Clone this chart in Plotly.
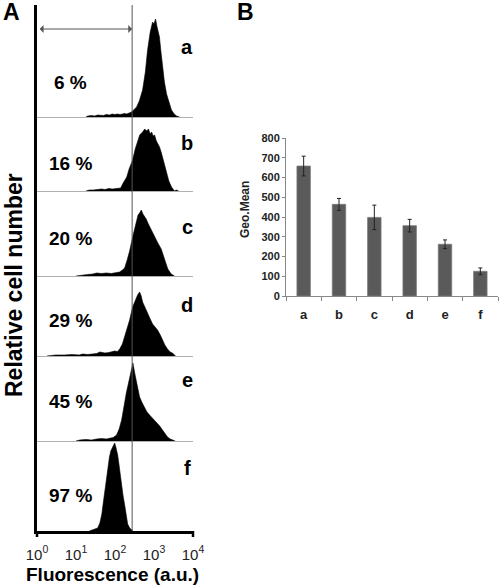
import numpy as np
import plotly.graph_objects as go

# ---------------- data ----------------
panels = ['a', 'b', 'c', 'd', 'e', 'f']
percent_labels = ['6 %', '16 %', '20 %', '29 %', '45 %', '97 %']
gate_value = 275  # gate boundary (a.u.)

fluo_a = [18, 20, 25, 30, 36, 41, 50, 60, 72, 85, 98, 115, 135, 155, 177, 200, 230, 267, 300, 358,
          420, 510, 600, 685, 800, 920, 1000, 1096, 1200, 1380, 1500, 1650, 1850, 2100, 2450, 2800, 3300, 3790, 4500]
count_a = [0, 1, 1.5, 1, 2, 2, 1.5, 2.5, 2, 3, 2.5, 3, 2.5, 3, 3.5, 3, 4, 5, 7, 10,
           16, 27, 45, 67, 85, 95, 93, 98, 90, 80, 66, 50, 35, 23, 13, 7, 3, 1, 0]

fluo_b = [18, 22, 28, 35, 45, 55, 70, 85, 100, 120, 140, 157, 177, 200, 230, 283, 330, 380, 430, 510,
          580, 645, 720, 800, 870, 950, 1033, 1150, 1386, 1550, 1700, 1859, 2100, 2400, 2808, 3100, 3350, 3700, 4000, 4300]
count_b = [0, 1, 1, 1.5, 2, 1.5, 2.5, 2, 2.5, 3, 3, 7, 10, 14, 22, 31, 42, 51, 56, 59,
           62, 60, 62, 57, 59, 55, 56, 50, 44, 38, 32, 27, 18, 10, 4, 1, 0, 1, 0, 0]

fluo_c = [10, 14, 20, 27, 34, 45, 60, 80, 100, 115, 132, 155, 177, 205, 237, 288, 320, 352, 390, 427,
          472, 520, 574, 630, 697, 800, 935, 1100, 1254, 1531, 1859, 2259, 2760, 3350]
count_c = [0, 1, 1.5, 2, 3, 2.5, 3, 2.5, 3, 3, 4, 6, 8, 16, 25, 40, 48, 55, 61, 63,
           66, 62, 60, 57, 53, 48, 43, 38, 33, 27, 17, 7, 2, 0]

fluo_d = [1.8, 3, 5, 8, 12, 15, 20, 27, 34, 41, 55, 70, 85, 98, 115, 132, 155, 177, 205, 237,
          283, 330, 380, 427, 470, 510, 590, 684, 800, 918, 1050, 1233, 1450, 1653, 1900, 2219, 2600, 2979, 3550]
count_d = [0, 1, 1, 1.5, 1, 2, 1.5, 2, 2.5, 4, 3, 3.5, 4, 5, 4.5, 7, 12, 19, 27, 36,
           49, 56, 61, 64, 60, 54, 48, 42, 37, 32, 29, 26, 21, 16, 11, 7, 4, 3, 0]

fluo_e = [10, 12.5, 18, 25, 34, 45, 60, 73, 90, 110, 128, 148, 162, 177, 195, 211, 240, 267, 288, 320,
          358, 390, 427, 500, 574, 660, 769, 950, 1162, 1400, 1653, 1900, 2219, 2600, 2979, 3500]
count_e = [0, 1, 1.5, 1, 2, 2.5, 2, 3, 3.5, 6, 12, 21, 31, 41, 48, 54, 64, 75, 78, 68,
           58, 50, 44, 38, 33, 29, 26, 22, 19, 15, 11, 7, 4, 2, 1, 0]

fluo_f = [22, 27, 32, 36, 41, 46, 50, 55, 60, 65, 72, 78, 82, 90, 98, 105, 112, 117, 125, 132,
          140, 148, 160, 177, 195, 211, 237, 267, 290]
count_f = [0, 1, 2, 3, 8, 17, 28, 40, 52, 63, 74, 80, 82, 86, 88, 84, 80, 76, 68, 60,
           54, 47, 36, 26, 15, 7, 3, 1, 0]

decade_vals = [1, 10, 100, 1000, 10000]
decade_text = ['10<sup>0</sup>', '10<sup>1</sup>', '10<sup>2</sup>', '10<sup>3</sup>', '10<sup>4</sup>']

categories = ['a', 'b', 'c', 'd', 'e', 'f']
geo_mean = [658, 464, 398, 356, 262, 125]
geo_err = [50, 30, 62, 32, 22, 17]

# ---------------- layout helpers ----------------
W, H = 500, 588
FONT = 'Arial, Liberation Sans, sans-serif'
hist_x = [fluo_a, fluo_b, fluo_c, fluo_d, fluo_e, fluo_f]
hist_y = [count_a, count_b, count_c, count_d, count_e, count_f]

top_px = [5, 117, 191, 276, 356, 441]
base_px = [117, 191, 276, 356, 441, 531]
label_y_px = [47, 143, 227, 305, 380, 468]
pct_y_px = [82, 163, 238, 320, 401, 495]
x_left, x_right = 37, 193


def px_x(p):
    return p / W


def px_y(p):
    return 1 - p / H


def axname(kind, n):
    return kind if n == 1 else f'{kind}{n}'


def note(text, xp, yp, size, angle=0, color='black'):
    return dict(text=text, x=px_x(xp), y=px_y(yp), xref='paper', yref='paper',
                xanchor='center', yanchor='middle', showarrow=False, textangle=angle,
                font=dict(size=size, family=FONT, color=color))


fig = go.Figure()
layout = dict(template='none', width=W, height=H, margin=dict(l=0, r=0, t=0, b=0, pad=0),
              paper_bgcolor='white', plot_bgcolor='white', showlegend=False,
              font=dict(family=FONT, color='black'))
annotations = []
shapes = []

for i in range(6):
    n = i + 1
    rng = base_px[i] - top_px[i]
    fig.add_trace(go.Scatter(x=hist_x[i], y=hist_y[i], mode='lines', fill='tozeroy',
                             line=dict(color='black', width=0.6), fillcolor='black',
                             xaxis=axname('x', n), yaxis=axname('y', n), hoverinfo='skip'))
    # gate line
    fig.add_trace(go.Scatter(x=[gate_value, gate_value], y=[0, rng], mode='lines',
                             line=dict(color='#555555', width=1),
                             xaxis=axname('x', n), yaxis=axname('y', n), hoverinfo='skip'))
    last = (i == 5)
    layout[axname('xaxis', n)] = dict(
        domain=[px_x(x_left), px_x(x_right)], type='log', range=[0, 4], automargin=False,
        anchor=axname('y', n), showgrid=False, zeroline=False,
        showline=True, linecolor='black' if last else '#b0b0b0', linewidth=2.5 if last else 1,
        tickvals=decade_vals if last else [], ticktext=decade_text if last else [],
        showticklabels=last, ticks='', ticklabelstandoff=8,
        tickfont=dict(size=15, family=FONT, color='#222222'))
    layout[axname('yaxis', n)] = dict(
        domain=[px_y(base_px[i]), px_y(top_px[i])], range=[0, rng], automargin=False,
        anchor=axname('x', n), showgrid=False, zeroline=False, showticklabels=False,
        showline=True, linecolor='black', linewidth=2.5, ticks='')
    annotations.append(note(f'<b>{percent_labels[i]}</b>', 70, pct_y_px[i], 19))
    annotations.append(note(f'<b>{panels[i]}</b>', 187, label_y_px[i], 20))

# double-headed arrow in panel a
annotations.append(dict(x=np.log10(gate_value), y=88, ax=0.03, ay=88, xref='x', yref='y',
                        axref='x', ayref='y', text='', showarrow=True, arrowside='end+start',
                        arrowhead=1, arrowsize=1.3, arrowwidth=1, arrowcolor='#555555'))

# end ticks of fluorescence axis
for xp in (x_left, x_right):
    shapes.append(dict(type='line', xref='paper', yref='paper', x0=px_x(xp), x1=px_x(xp),
                       y0=px_y(531), y1=px_y(537), line=dict(color='black', width=2.5)))

# axis titles / panel letters
annotations.append(note('<b>Relative cell number</b>', 14, 285, 23, angle=-90))
annotations.append(note('<b>Fluorescence (a.u.)</b>', 112, 574, 19))
annotations.append(note('<b>A</b>', 11, 12, 23))
annotations.append(note('<b>B</b>', 245, 12, 23))

# ---------------- panel B bar chart ----------------
fig.add_trace(go.Bar(x=categories, y=geo_mean, xaxis='x7', yaxis='y7',
                     marker=dict(color='#5a5a5a', line=dict(color='#7a7a7a', width=0.8)),
                     width=0.38,
                     error_y=dict(type='data', array=geo_err, color='#222222', thickness=1, width=2),
                     hoverinfo='skip'))
layout['xaxis7'] = dict(domain=[px_x(286), px_x(498)], anchor='y7', type='category', automargin=False,
                        showline=True, linecolor='#888888', linewidth=1, showgrid=False,
                        ticks='outside', tickson='boundaries', ticklen=4, tickcolor='#888888',
                        ticklabelstandoff=6,
                        tickfont=dict(size=13, family=FONT, color='#222222', weight='bold'))
layout['yaxis7'] = dict(domain=[px_y(296), px_y(138)], anchor='x7', range=[0, 800], automargin=False,
                        tickvals=[0, 100, 200, 300, 400, 500, 600, 700, 800],
                        showline=True, linecolor='#888888', linewidth=1, showgrid=False,
                        zeroline=False, ticks='outside', ticklen=3, tickcolor='#888888',
                        tickfont=dict(size=11, family=FONT, color='#222222', weight='bold'))
annotations.append(note('<b>Geo.Mean</b>', 245, 210, 12, angle=-90, color='#222222'))

layout['annotations'] = annotations
layout['shapes'] = shapes
fig.update_layout(**layout)
fig.write_html('out.html', config={'displayModeBar': False},
               post_script="document.body.style.margin='0px';")
